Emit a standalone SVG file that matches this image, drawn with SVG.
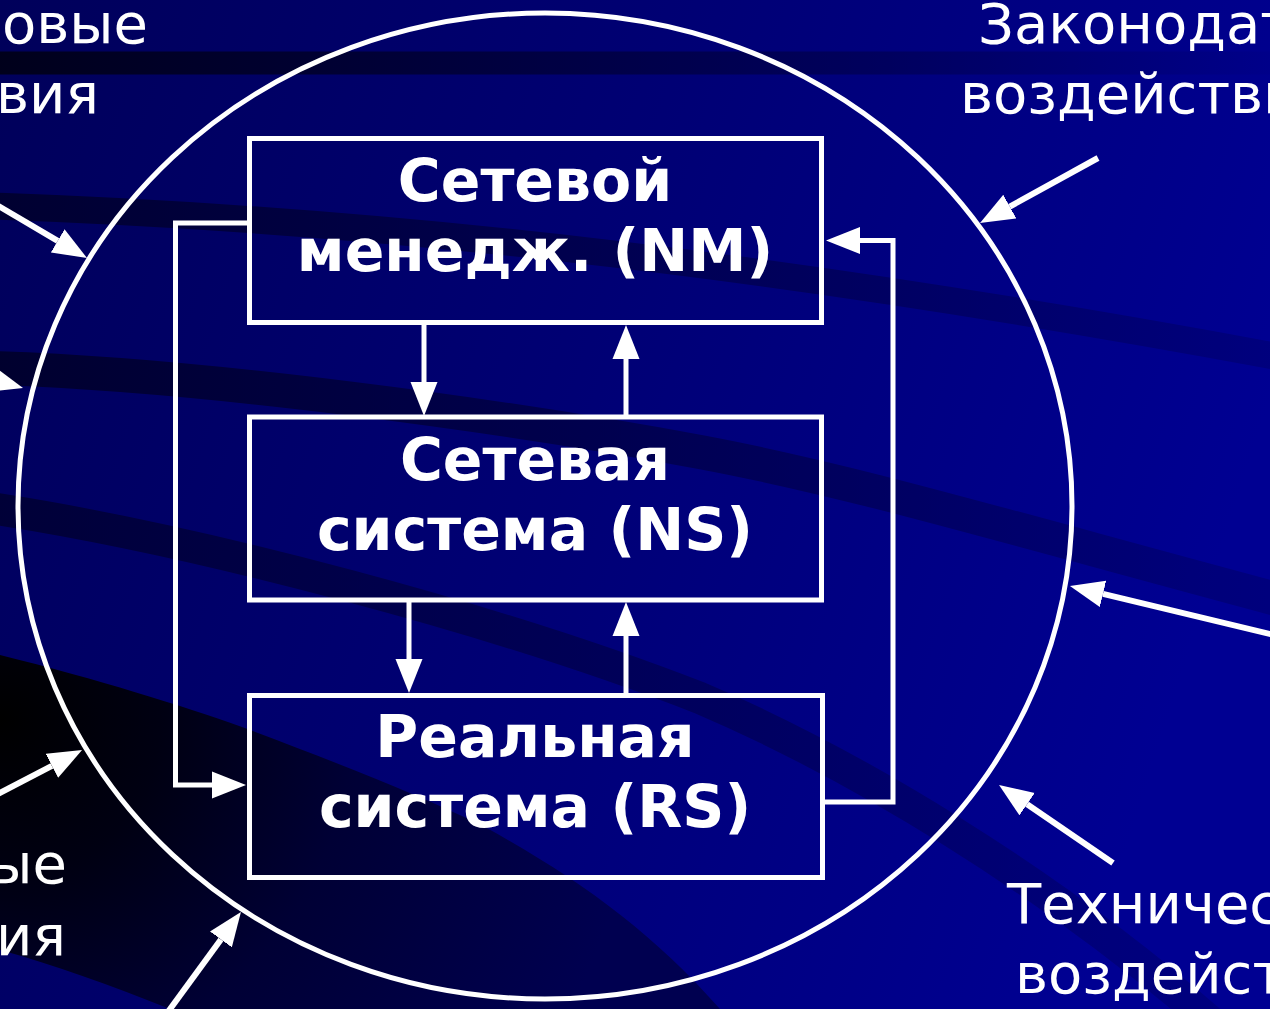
<svg xmlns="http://www.w3.org/2000/svg" width="1270" height="1009" viewBox="0 0 1270 1009">
<defs>
<linearGradient id="bg" x1="0" y1="0" x2="1270" y2="400" gradientUnits="userSpaceOnUse">
<stop offset="0" stop-color="#00005a"/>
<stop offset="0.5" stop-color="#000074"/>
<stop offset="1" stop-color="#000092"/>
</linearGradient>
<linearGradient id="fadeR" x1="0" y1="0" x2="1270" y2="0" gradientUnits="userSpaceOnUse">
<stop offset="0" stop-color="#000020" stop-opacity="0.9"/>
<stop offset="0.6" stop-color="#000030" stop-opacity="0.55"/>
<stop offset="1" stop-color="#000040" stop-opacity="0.3"/>
</linearGradient>
<linearGradient id="fadeR2" x1="0" y1="0" x2="1270" y2="0" gradientUnits="userSpaceOnUse">
<stop offset="0" stop-color="#000018" stop-opacity="0.95"/>
<stop offset="0.7" stop-color="#000030" stop-opacity="0.4"/>
<stop offset="1" stop-color="#000040" stop-opacity="0.05"/>
</linearGradient>
<radialGradient id="dark" cx="0" cy="720" r="640" gradientUnits="userSpaceOnUse">
<stop offset="0" stop-color="#000000"/>
<stop offset="0.25" stop-color="#000012"/>
<stop offset="0.55" stop-color="#000035"/>
<stop offset="1" stop-color="#000050"/>
</radialGradient>
<marker id="ah" markerUnits="userSpaceOnUse" markerWidth="36" markerHeight="28" refX="0" refY="13.5" orient="auto" viewBox="0 0 36 27">
<path d="M0,0 L34,13.5 L0,27 Z" fill="#ffffff"/>
</marker>
<marker id="ahs" markerUnits="userSpaceOnUse" markerWidth="36" markerHeight="28" refX="0" refY="13.5" orient="auto" viewBox="0 0 36 27">
<path d="M0,0 L34,13.5 L0,27 Z" fill="#ffffff"/>
</marker>
</defs>
<style>
.box{fill:none;stroke:#ffffff;stroke-width:5}
.t{font-family:"DejaVu Sans","Verdana",sans-serif;font-weight:bold;font-size:58.5px;fill:#ffffff;text-anchor:middle}
.lbl{font-family:"DejaVu Sans","Verdana",sans-serif;font-size:56px;fill:#ffffff}
.c{fill:none;stroke:#ffffff;stroke-width:5}
.ext{fill:none;stroke:#ffffff;stroke-width:6;marker-end:url(#ah)}
.int{fill:none;stroke:#ffffff;stroke-width:5;marker-end:url(#ahs)}
</style>
<g id="background">
<rect x="0" y="0" width="1270" height="1009" fill="url(#bg)"/>
<path d="M-10,63 L1280,63" stroke="url(#fadeR2)" stroke-width="23" fill="none"/>
<path d="M-10,206 C400,220 800,268 1280,357" stroke="url(#fadeR)" stroke-width="27" fill="none" opacity="0.8"/>
<path d="M-10,368 C200,374 500,415 700,452 C850,480 1000,525 1280,600" stroke="url(#fadeR)" stroke-width="34" fill="none" opacity="0.85"/>
<path d="M-10,508 C200,540 500,620 700,698 C850,762 1050,880 1220,1030" stroke="url(#fadeR)" stroke-width="32" fill="none" opacity="0.7"/>
<path d="M0,655 C100,680 180,705 242,727 C330,760 420,795 485,827 C580,880 650,930 720,1009 L170,1009 C110,985 55,965 0,950 Z" fill="url(#dark)"/>
</g>
<g id="boundary">
<ellipse cx="545" cy="506" rx="527" ry="493" class="c"/>
</g>
<g id="labels">
<text class="lbl" x="148" y="43" text-anchor="end">овые</text>
<text class="lbl" x="99" y="113" text-anchor="end">вия</text>
<text class="lbl" x="67" y="883" text-anchor="end">ые</text>
<text class="lbl" x="66" y="955" text-anchor="end">ия</text>
<text class="lbl" x="978" y="43">Законодат</text>
<text class="lbl" x="960" y="113">воздействи</text>
<text class="lbl" x="1007" y="923">Техничес</text>
<text class="lbl" x="1015" y="993">воздейст</text>
</g>
<g id="node-nm">
<rect class="box" x="249.5" y="138.5" width="572" height="184"/>
<text class="t" x="535" y="201">Сетевой</text>
<text class="t" x="535" y="271">менедж. (NM)</text>
</g>
<g id="node-ns">
<rect class="box" x="249.5" y="417" width="572" height="183"/>
<text class="t" x="535" y="480">Сетевая</text>
<text class="t" x="535" y="550">система (NS)</text>
</g>
<g id="node-rs">
<rect class="box" x="249.5" y="695.5" width="573" height="182"/>
<text class="t" x="535" y="757">Реальная</text>
<text class="t" x="535" y="827">система (RS)</text>
</g>
<g id="connectors">
<path class="int" d="M424,325 V382"/>
<path class="int" d="M626,415 V359"/>
<path class="int" d="M409,602 V659"/>
<path class="int" d="M626,693 V636"/>
<path class="int" d="M247,223 H175.5 V785 H212"/>
<path class="int" d="M824,802 H893 V240.5 H860"/>
<path class="ext" d="M-10,201 L57.7,240.8"/>
<path class="ext" d="M-120,349 L-9.8,379"/>
<path class="ext" d="M-10,798 L51.9,765.8"/>
<path class="ext" d="M165,1016 L220.9,939.4"/>
<path class="ext" d="M1098,158 L1009.8,206.6"/>
<path class="ext" d="M1280,636.4 L1103,593.9"/>
<path class="ext" d="M1113,863 L1027.1,804.2"/>
</g>
</svg>
